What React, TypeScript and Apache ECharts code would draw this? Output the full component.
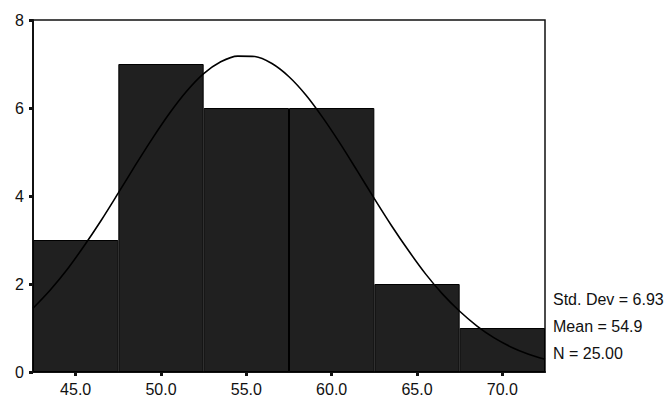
import React, { useEffect, useRef } from "react";
import * as echarts from "echarts";

const binLabels = ["45.0", "50.0", "55.0", "60.0", "65.0", "70.0"];
const binCounts = [3, 7, 6, 6, 2, 1];
const yTicks = [0, 2, 4, 6, 8];
const curveX = [42.5, 43.5, 44.5, 45.5, 46.5, 47.5, 48.5, 49.5, 50.5, 51.5, 52.5, 53.5, 54.5, 55.5, 56.5, 57.5, 58.5, 59.5, 60.5, 61.5, 62.5, 63.5, 64.5, 65.5, 66.5, 67.5, 68.5, 69.5, 70.5, 71.5, 72.5];
const curveY = [1.45, 1.86, 2.33, 2.87, 3.45, 4.07, 4.7, 5.31, 5.88, 6.38, 6.78, 7.05, 7.18, 7.17, 7.01, 6.71, 6.29, 5.77, 5.19, 4.57, 3.94, 3.33, 2.76, 2.23, 1.77, 1.38, 1.05, 0.78, 0.57, 0.41, 0.29];
const statLines = ["Std. Dev = 6.93", "Mean = 54.9", "N = 25.00"];

export default function App() {
  const ref = useRef<HTMLDivElement>(null);
  useEffect(() => {
    if (!ref.current) return;
    const chart = echarts.init(ref.current, null, { renderer: "svg" });
    const font = "'Liberation Sans', Arial, sans-serif";
    chart.setOption({
      animation: false,
      backgroundColor: "#ffffff",
      grid: {
        left: 33,
        right: 124,
        top: 20,
        bottom: 26,
        show: true,
        borderColor: "#111",
        borderWidth: 1.5,
        backgroundColor: "transparent",
      },
      xAxis: [
        {
          type: "category",
          data: binLabels,
          boundaryGap: true,
          axisLine: { show: true, lineStyle: { color: "#111", width: 2 } },
          axisTick: { show: true, alignWithLabel: true, length: 4, lineStyle: { color: "#111", width: 3 } },
          axisLabel: { color: "#111", fontSize: 16, fontFamily: font, margin: 9 },
          splitLine: { show: false },
        },
        {
          type: "value",
          min: curveX[0],
          max: curveX[curveX.length - 1],
          show: false,
        },
      ],
      yAxis: {
        type: "value",
        min: yTicks[0],
        max: yTicks[yTicks.length - 1],
        interval: 2,
        axisLine: { show: true, lineStyle: { color: "#111", width: 2 } },
        axisTick: { show: true, length: 4, lineStyle: { color: "#111", width: 3 } },
        axisLabel: { color: "#111", fontSize: 16, fontFamily: font, margin: 9 },
        splitLine: { show: false },
      },
      series: [
        {
          type: "bar",
          data: binCounts,
          xAxisIndex: 0,
          barWidth: "100%",
          barCategoryGap: "0%",
          itemStyle: { color: "#202020", borderColor: "#000", borderWidth: 1 },
          z: 2,
        },
        {
          type: "line",
          xAxisIndex: 1,
          data: curveX.map((x, i) => [x, curveY[i]]),
          smooth: 0.3,
          symbol: "none",
          lineStyle: { color: "#000", width: 1.6 },
          z: 3,
        },
      ],
      graphic: statLines.map((t, i) => ({
        type: "text",
        left: 553,
        top: 291 + i * 27,
        style: { text: t, fill: "#111", font: `16px ${font}` },
      })),
    });
    return () => chart.dispose();
  }, []);
  return (
    <div
      ref={ref}
      style={{ position: "absolute", left: 0, top: 0, width: 669, height: 398 }}
    />
  );
}
